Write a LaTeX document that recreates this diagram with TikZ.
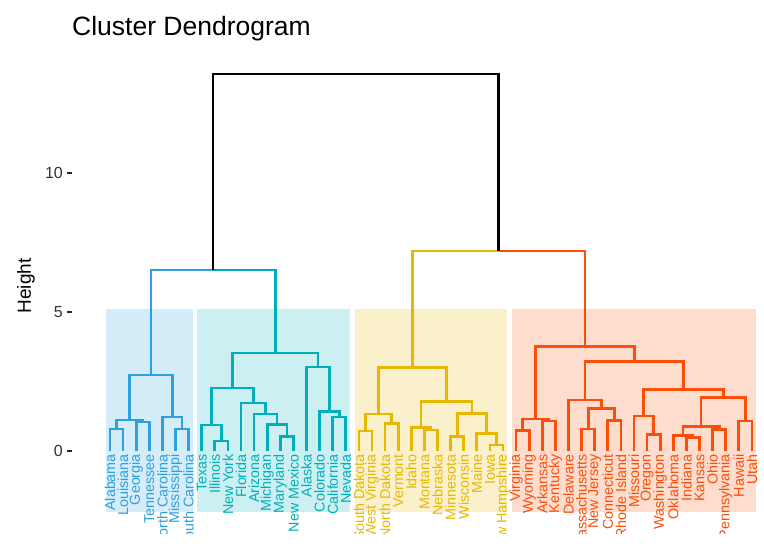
\documentclass[tikz,border=0pt]{standalone}
\usepackage{fontspec}
\setmainfont{Liberation Sans}
\usetikzlibrary{calc}
\definecolor{cA}{HTML}{2E9FDF}
\definecolor{cB}{HTML}{00AFBB}
\definecolor{cC}{HTML}{E7B800}
\definecolor{cD}{HTML}{FC4E07}
\newcommand{\mrg}[6]{%
  \coordinate (#1tmp) at ($(#2)!0.5!(#3)$);
  \coordinate (#1) at (#1tmp |- 0,#4);
  \draw[dend,#5] (#2) |- (#1);
  \draw[dend,#6] (#1) -| (#3);}
\begin{document}
\begin{tikzpicture}[x=1pt,y=-1pt,
  dend/.style={line width=2.7pt},
  leaf/.style={rotate=90,anchor=east,inner sep=0pt,font=\fontsize{14.3}{16}\selectfont},
  ticklab/.style={anchor=east,inner sep=0pt,text=black!80,font=\fontsize{16}{18}\selectfont},
  tickmark/.style={line width=1.3pt,black!85}]
\useasboundingbox[fill=white] (0,0) rectangle (764,559);

% leaf positions
\foreach \i in {1,...,50}{\coordinate (l\i) at ({110+(\i-1)*13.1},451);}

% cluster boxes
\fill[cA!20] (105.7,309) rectangle (192.9,512);
\fill[cB!20] (197.4,309) rectangle (350.1,512);
\fill[cC!20] (354.6,309) rectangle (507.3,512);
\fill[cD!20] (511.8,309) rectangle (756.3,512);

% title and axis
\node[anchor=base west,inner sep=0pt,font=\fontsize{26.5}{30}\selectfont] (title) at (72,36) {Cluster Dendrogram};
\node[rotate=90,inner sep=0pt,font=\fontsize{19}{21}\selectfont] (ylab) at (26,286) {Height};
\node[ticklab] (t0) at (63,451) {0};
\node[ticklab] (t5) at (63,312) {5};
\node[ticklab] (t10) at (63,173) {10};
\draw[tickmark] (67,451) -- (72,451);
\draw[tickmark] (67,312) -- (72,312);
\draw[tickmark] (67,173) -- (72,173);

% cluster 1
\mrg{a1}{l1}{l2}{429}{cA}{cA}
\mrg{a2}{l3}{l4}{422}{cA}{cA}
\mrg{a3}{a1}{a2}{420}{cA}{cA}
\mrg{a4}{l6}{l7}{429}{cA}{cA}
\mrg{a5}{l5}{a4}{417}{cA}{cA}
\mrg{C1}{a3}{a5}{375}{cA}{cA}
% cluster 2
\mrg{b1}{l9}{l10}{441}{cB}{cB}
\mrg{b2}{l8}{b1}{425}{cB}{cB}
\mrg{b3}{l14}{l15}{436.5}{cB}{cB}
\mrg{b4}{l13}{b3}{424.5}{cB}{cB}
\mrg{b5}{l12}{b4}{414}{cB}{cB}
\mrg{b6}{l11}{b5}{403}{cB}{cB}
\mrg{b7}{b2}{b6}{388}{cB}{cB}
\mrg{b8}{l18}{l19}{417}{cB}{cB}
\mrg{b9}{l17}{b8}{411.5}{cB}{cB}
\mrg{b10}{l16}{b9}{367}{cB}{cB}
\mrg{C2}{b7}{b10}{353}{cB}{cB}
% cluster 3
\mrg{d1}{l20}{l21}{431}{cC}{cC}
\mrg{d2}{l22}{l23}{423.5}{cC}{cC}
\mrg{d3}{d1}{d2}{414}{cC}{cC}
\mrg{d4}{l25}{l26}{430}{cC}{cC}
\mrg{d5}{l24}{d4}{427.5}{cC}{cC}
\mrg{d6}{l27}{l28}{436.5}{cC}{cC}
\mrg{d7}{l30}{l31}{445}{cC}{cC}
\mrg{d8}{l29}{d7}{433.5}{cC}{cC}
\mrg{d9}{d6}{d8}{413.5}{cC}{cC}
\mrg{d10}{d5}{d9}{401.5}{cC}{cC}
\mrg{C3}{d3}{d10}{367.5}{cC}{cC}
% cluster 4
\mrg{e1}{l32}{l33}{430.5}{cD}{cD}
\mrg{e2}{l34}{l35}{421}{cD}{cD}
\mrg{e3}{e1}{e2}{419}{cD}{cD}
\mrg{e4}{l37}{l38}{429}{cD}{cD}
\mrg{e5}{l39}{l40}{420.5}{cD}{cD}
\mrg{e6}{e4}{e5}{408.5}{cD}{cD}
\mrg{e7}{l36}{e6}{400}{cD}{cD}
\mrg{e8}{l42}{l43}{434.5}{cD}{cD}
\mrg{e9}{l41}{e8}{416}{cD}{cD}
\mrg{e10}{l45}{l46}{437.5}{cD}{cD}
\mrg{e11}{l44}{e10}{435.5}{cD}{cD}
\mrg{e12}{l47}{l48}{429.3}{cD}{cD}
\mrg{e13}{e11}{e12}{426.7}{cD}{cD}
\mrg{e14}{l49}{l50}{421}{cD}{cD}
\mrg{e15}{e13}{e14}{397.3}{cD}{cD}
\mrg{e16}{e9}{e15}{389.3}{cD}{cD}
\mrg{e17}{e7}{e16}{361.7}{cD}{cD}
\mrg{C4}{e3}{e17}{346.7}{cD}{cD}
% top
\mrg{BT}{C1}{C2}{270}{cA}{cB}
\mrg{YR}{C3}{C4}{251}{cC}{cD}
\mrg{root}{BT}{YR}{74}{black}{black}

% leaf labels
\begin{scope}
\clip (0,0) rectangle (764,533);
\foreach \n [count=\i from 1] in {Alabama,Louisiana,Georgia,Tennessee,North Carolina,Mississippi,South Carolina}
  \node[leaf,text=cA] (n\i) at ([yshift=-3pt]l\i) {\n};
\foreach \n [count=\i from 8] in {Texas,Illinois,New York,Florida,Arizona,Michigan,Maryland,New Mexico,Alaska,Colorado,California,Nevada}
  \node[leaf,text=cB] (n\i) at ([yshift=-3pt]l\i) {\n};
\foreach \n [count=\i from 20] in {South Dakota,West Virginia,North Dakota,Vermont,Idaho,Montana,Nebraska,Minnesota,Wisconsin,Maine,Iowa,New Hampshire}
  \node[leaf,text=cC] (n\i) at ([yshift=-3pt]l\i) {\n};
\foreach \n [count=\i from 32] in {Virginia,Wyoming,Arkansas,Kentucky,Delaware,Massachusetts,New Jersey,Connecticut,Rhode Island,Missouri,Oregon,Washington,Oklahoma,Indiana,Kansas,Ohio,Pennsylvania,Hawaii,Utah}
  \node[leaf,text=cD] (n\i) at ([yshift=-3pt]l\i) {\n};
\end{scope}
\end{tikzpicture}
\end{document}
